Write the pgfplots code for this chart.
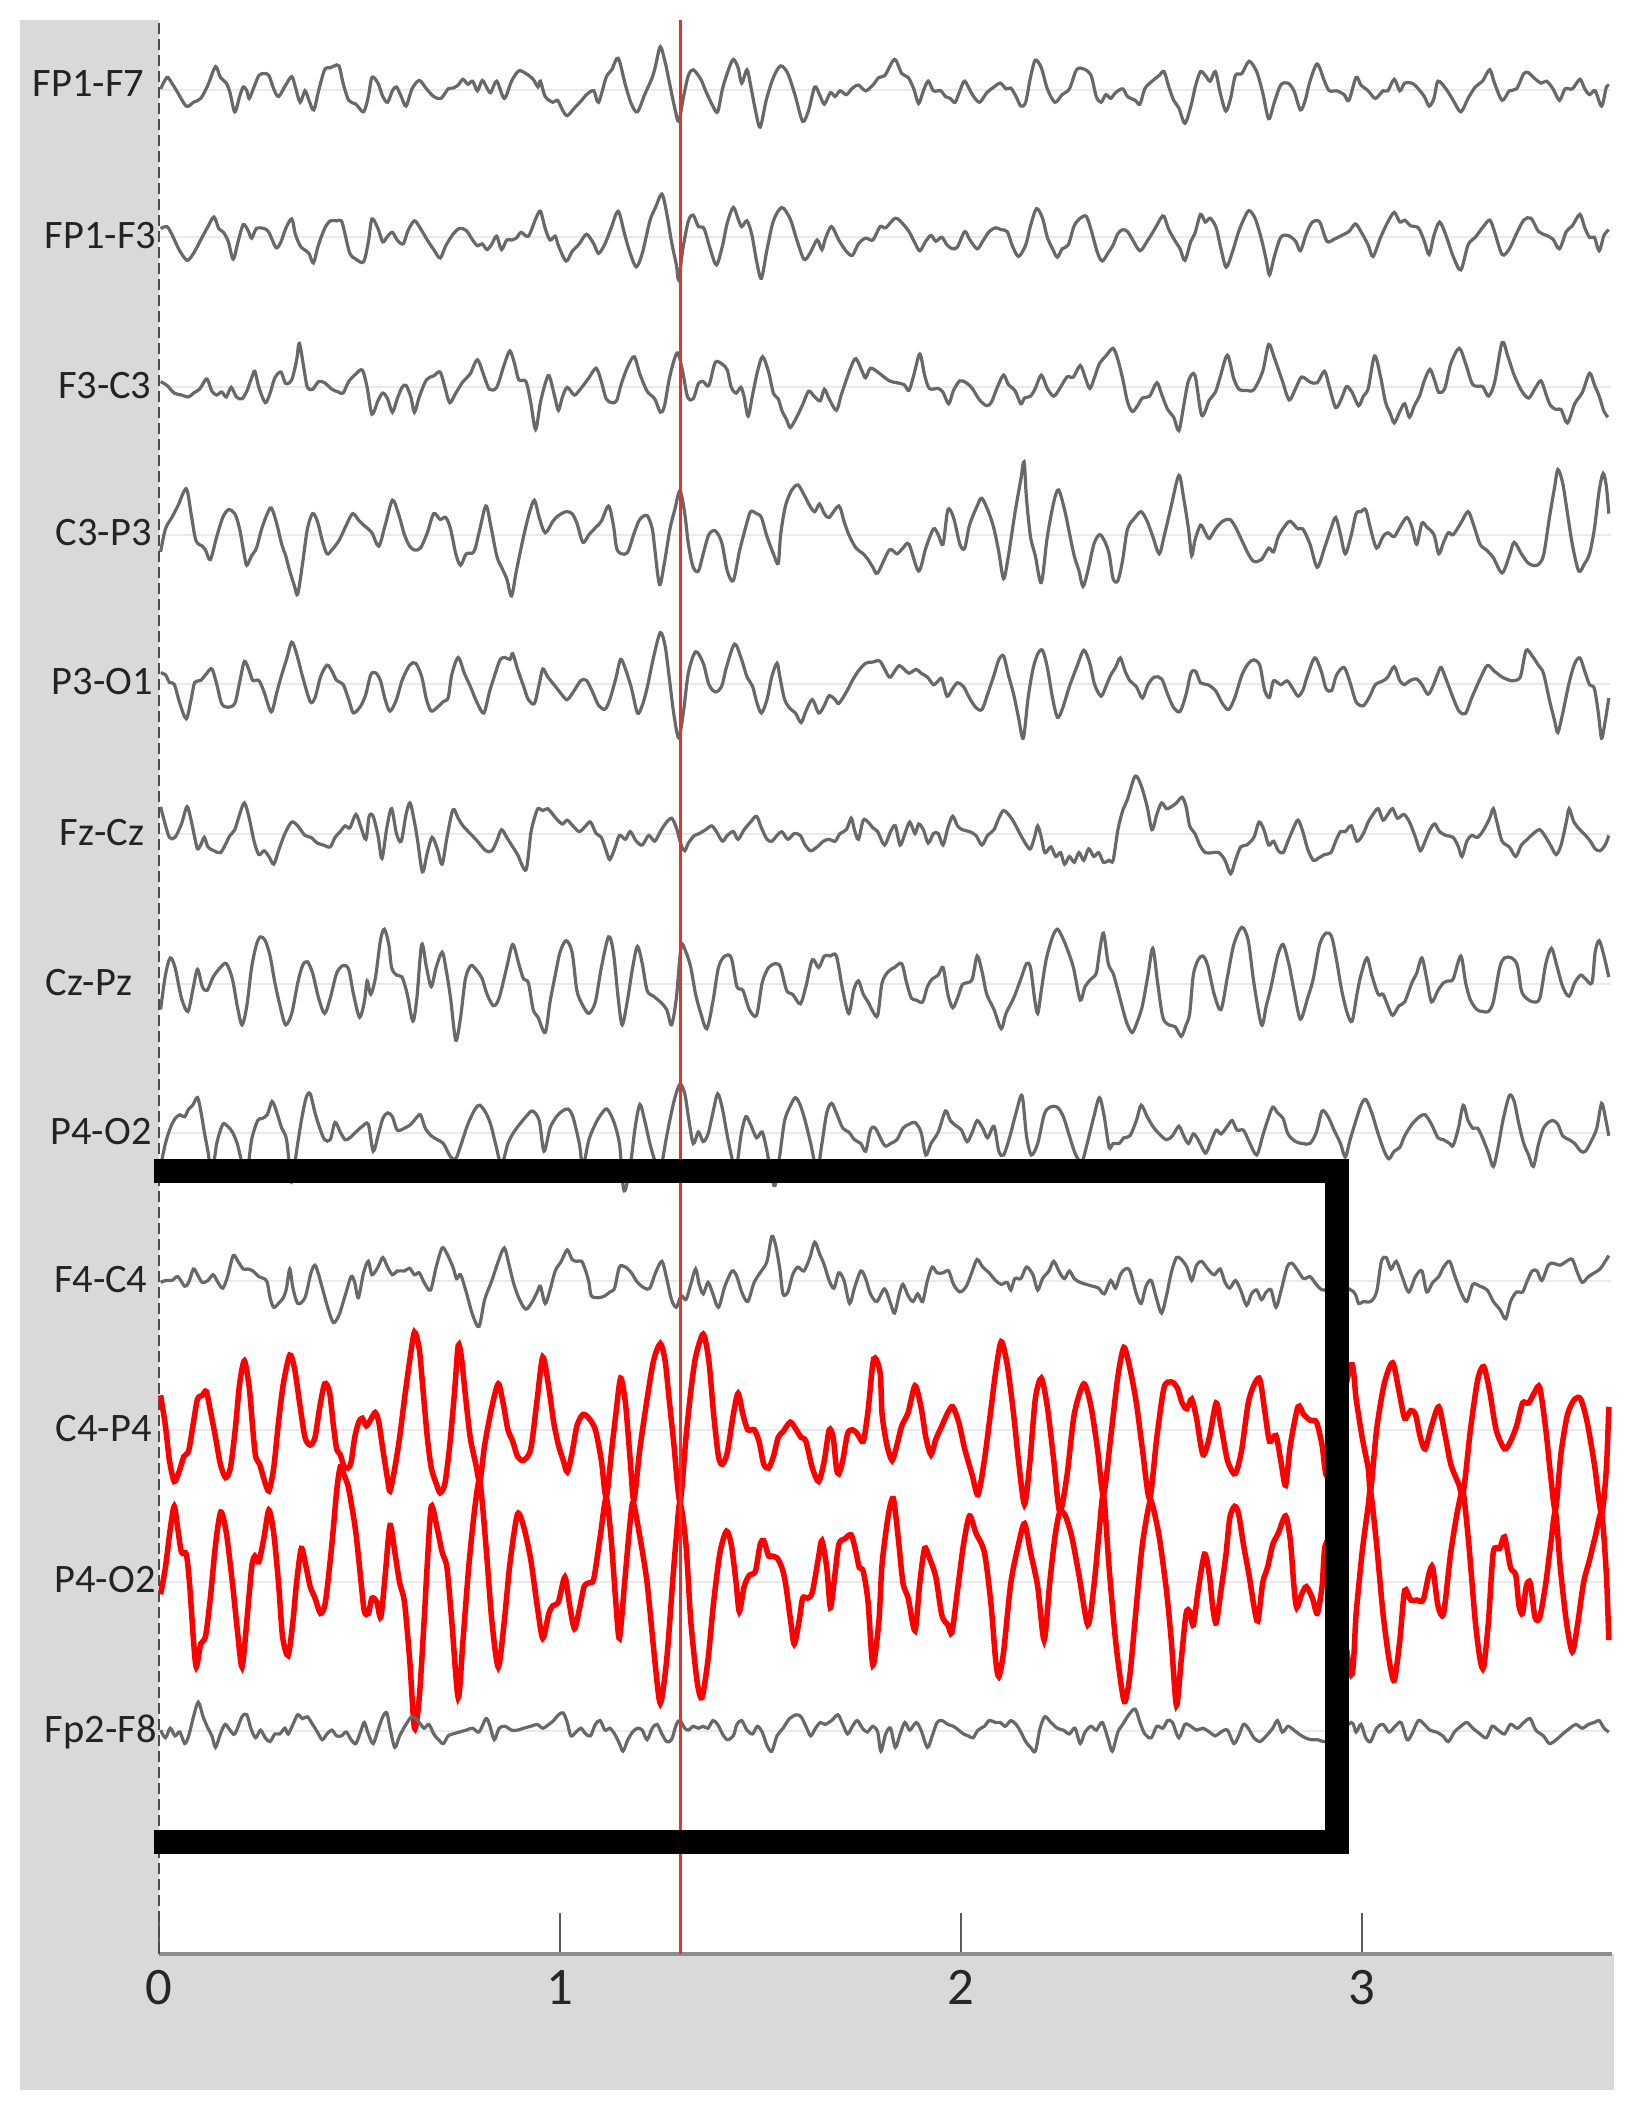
\documentclass[border=0pt]{standalone}
\usepackage{fontspec}
\setmainfont{Carlito}
\usepackage{pgfplots}
\pgfplotsset{compat=1.18}

\definecolor{stripgray}{RGB}{217,217,217}
\definecolor{tracegray}{RGB}{104,104,104}
\definecolor{eegred}{RGB}{255,0,0}
\definecolor{markerred}{RGB}{238,45,45}
\definecolor{basegray}{RGB}{234,234,234}
\definecolor{axisgray}{RGB}{140,140,140}
\definecolor{labelgray}{RGB}{35,35,35}

% 1 px of the 1632x2112 reference = 0.1 mm; y unit = amplitude units (2.613 per px)
\pgfplotsset{
  trace/.style={draw=tracegray, line width=0.32mm, smooth, tension=0.5, no markers},
  redtrace/.style={draw=eegred, line width=0.55mm, smooth, tension=0.45, no markers},
}
\tikzset{
  lab/.style={anchor=east, inner sep=0pt, font=\fontsize{11.5}{13}\selectfont,
              text=labelgray, text height=0.644em, text depth=0pt},
}

\begin{document}
\begin{tikzpicture}
\path[use as bounding box, fill=white] (0,0) rectangle (163.2mm,211.2mm);
\fill[stripgray] (2mm,2.2mm) rectangle (15.9mm,209.2mm);
\fill[stripgray] (2mm,2.2mm) rectangle (161.4mm,15.8mm);

\begin{axis}[
  at={(15.9mm,15.8mm)}, anchor=south west,
  width=145.3mm, height=193.4mm, scale only axis,
  xmin=0, xmax=3.623, ymin=-5106, ymax=-52,
  axis x line*=bottom, axis y line=none,
  x axis line style={draw=axisgray, line width=0.4mm},
  xtick={0,1,2,3}, xticklabels={0,1,2,3},
  tick align=inside, major tick length=4.1mm,
  xtick style={draw=black!65, line width=0.2mm},
  xticklabel style={font=\fontsize{15}{18}\selectfont, text=black!85, yshift=-0.4mm},
  clip=false,
]

% channel baselines
\draw[basegray, line width=0.2mm] (0,-235) -- (3.62,-235);
\draw[basegray, line width=0.2mm] (0,-620) -- (3.62,-620);
\draw[basegray, line width=0.2mm] (0,-1012) -- (3.62,-1012);
\draw[basegray, line width=0.2mm] (0,-1397) -- (3.62,-1397);
\draw[basegray, line width=0.2mm] (0,-1786) -- (3.62,-1786);
\draw[basegray, line width=0.2mm] (0,-2180) -- (3.62,-2180);
\draw[basegray, line width=0.2mm] (0,-2571) -- (3.62,-2571);
\draw[basegray, line width=0.2mm] (0,-2960) -- (3.62,-2960);
\draw[basegray, line width=0.2mm] (0,-3348) -- (3.62,-3348);
\draw[basegray, line width=0.2mm] (0,-3736) -- (3.62,-3736);
\draw[basegray, line width=0.2mm] (0,-4133) -- (3.62,-4133);
\draw[basegray, line width=0.2mm] (0,-4524) -- (3.62,-4524);

% FP1-F7
\addplot[trace, y filter/.expression={y-235}] coordinates {
(0.004,3) (0.020,33) (0.032,18) (0.044,-2) (0.068,-42) (0.086,-32) (0.104,-22) (0.122,13) (0.141,61) (0.153,33)
(0.168,18) (0.177,-7) (0.189,-57) (0.201,-17) (0.210,8) (0.219,-2) (0.225,-22) (0.237,8) (0.249,38) (0.262,43)
(0.274,38) (0.286,3) (0.298,-17) (0.316,13) (0.331,35) (0.340,8) (0.352,-32) (0.364,-2) (0.374,-27) (0.386,-52)
(0.398,-2) (0.413,53) (0.427,58) (0.437,63) (0.449,63) (0.459,18) (0.473,-27) (0.491,-37) (0.510,-57) (0.522,-17)
(0.531,33) (0.546,18) (0.558,-17) (0.570,-32) (0.582,-2) (0.592,8) (0.604,-17) (0.616,-42) (0.631,3) (0.649,25)
(0.667,3) (0.685,-17) (0.703,-22) (0.721,3) (0.733,5) (0.746,13) (0.758,28) (0.770,15) (0.782,23) (0.794,-2)
(0.806,25) (0.818,5) (0.827,-7) (0.842,23) (0.861,-22) (0.879,23) (0.897,50) (0.915,43) (0.933,28) (0.945,8)
(0.951,23) (0.963,-17) (0.982,-32) (0.994,-27) (1.006,-52) (1.018,-67) (1.036,-47) (1.054,-27) (1.066,-12) (1.084,-2)
(1.096,-32) (1.115,33) (1.129,53) (1.145,83) (1.163,13) (1.178,-37) (1.193,-57) (1.211,-12) (1.230,33) (1.238,63)
(1.250,113) (1.262,73) (1.272,23) (1.286,-47) (1.296,-82) (1.308,-17) (1.320,38) (1.332,53) (1.351,28) (1.363,-2)
(1.381,-42) (1.393,-57) (1.405,3) (1.420,53) (1.432,80) (1.444,58) (1.453,18) (1.466,53) (1.475,13) (1.487,-52)
(1.499,-97) (1.514,-27) (1.532,33) (1.550,63) (1.568,43) (1.587,-17) (1.605,-82) (1.620,-52) (1.635,8) (1.647,-12)
(1.659,-37) (1.674,-7) (1.686,-17) (1.698,-2) (1.714,-12) (1.729,5) (1.744,13) (1.762,-2) (1.780,13) (1.795,33)
(1.810,38) (1.834,80) (1.852,43) (1.868,33) (1.882,3) (1.894,-35) (1.906,-2) (1.918,23) (1.931,-2) (1.949,-2)
(1.961,-17) (1.973,-22) (1.985,-32) (1.997,-2) (2.009,23) (2.028,-12) (2.046,-32) (2.064,-7) (2.082,8) (2.098,18)
(2.112,3) (2.124,5) (2.137,-17) (2.149,-42) (2.161,-32) (2.173,33) (2.185,78) (2.200,58) (2.215,3) (2.234,-32)
(2.252,-12) (2.270,3) (2.288,53) (2.306,55) (2.324,38) (2.337,-17) (2.349,-32) (2.361,-12) (2.373,-22) (2.385,-7)
(2.403,3) (2.415,-17) (2.434,-27) (2.446,-37) (2.458,3) (2.476,23) (2.494,38) (2.506,48) (2.518,8) (2.530,-27)
(2.543,-47) (2.558,-87) (2.573,-42) (2.585,13) (2.597,48) (2.609,38) (2.621,23) (2.634,48) (2.646,-7) (2.660,-55)
(2.672,-22) (2.684,38) (2.700,43) (2.718,75) (2.737,48) (2.752,-7) (2.767,-75) (2.781,-32) (2.797,13) (2.815,18)
(2.830,-2) (2.846,-52) (2.858,-27) (2.870,23) (2.888,68) (2.906,23) (2.918,-2) (2.936,-2) (2.955,-12) (2.967,-27)
(2.985,33) (2.997,13) (3.015,-2) (3.033,-22) (3.052,-2) (3.064,-2) (3.080,28) (3.094,-2) (3.106,18) (3.124,18)
(3.136,8) (3.155,-17) (3.167,-42) (3.179,-22) (3.189,23) (3.209,3) (3.227,-27) (3.246,-57) (3.264,-22) (3.282,8)
(3.300,23) (3.318,53) (3.330,18) (3.349,-27) (3.367,-2) (3.385,3) (3.403,43) (3.415,45) (3.427,33) (3.446,18)
(3.460,23) (3.476,3) (3.492,-27) (3.506,3) (3.524,3) (3.543,28) (3.555,3) (3.567,-12) (3.581,-2) (3.597,-42)
(3.609,8) (3.615,10)
};

% FP1-F3
\addplot[trace, y filter/.expression={y-620}] coordinates {
(0.004,23) (0.020,28) (0.032,8) (0.050,-32) (0.070,-60) (0.086,-42) (0.104,-7) (0.122,28) (0.137,53) (0.149,23)
(0.161,13) (0.173,-12) (0.185,-57) (0.197,-12) (0.210,33) (0.222,18) (0.231,-2) (0.243,23) (0.262,23) (0.274,13)
(0.292,-27) (0.304,-12) (0.316,23) (0.331,48) (0.340,8) (0.352,-22) (0.362,-32) (0.374,-42) (0.385,-67) (0.397,-22)
(0.413,23) (0.427,43) (0.443,43) (0.455,43) (0.464,8) (0.476,-42) (0.491,-57) (0.510,-64) (0.522,-12) (0.531,48)
(0.546,23) (0.558,-12) (0.570,3) (0.582,13) (0.594,-7) (0.609,-17) (0.621,18) (0.637,43) (0.652,23) (0.669,-7)
(0.685,-32) (0.701,-54) (0.715,-22) (0.733,8) (0.749,23) (0.766,18) (0.782,-7) (0.794,-22) (0.806,-17) (0.818,-32)
(0.830,-17) (0.842,3) (0.854,-32) (0.867,-7) (0.879,-7) (0.891,-2) (0.903,13) (0.921,3) (0.939,48) (0.951,68)
(0.963,23) (0.975,-7) (0.988,3) (0.996,-22) (1.015,-62) (1.030,-37) (1.048,-17) (1.066,8) (1.084,-17) (1.096,-42)
(1.112,-17) (1.127,23) (1.145,68) (1.161,8) (1.175,-42) (1.190,-77) (1.205,-42) (1.224,43) (1.238,78) (1.254,113)
(1.266,63) (1.278,-12) (1.290,-72) (1.296,-112) (1.306,-32) (1.320,43) (1.332,58) (1.345,28) (1.359,23) (1.375,-32)
(1.390,-72) (1.405,-22) (1.417,38) (1.432,78) (1.444,48) (1.453,28) (1.466,43) (1.478,8) (1.490,-62) (1.502,-107)
(1.516,-32) (1.532,43) (1.553,78) (1.574,48) (1.589,-2) (1.608,-57) (1.623,-42) (1.641,-7) (1.653,-32) (1.662,-2)
(1.677,28) (1.695,-7) (1.714,-37) (1.729,-47) (1.744,-17) (1.762,-2) (1.780,-7) (1.798,28) (1.812,25) (1.836,50)
(1.855,35) (1.870,15) (1.885,-15) (1.897,-35) (1.912,-10) (1.925,5) (1.937,-10) (1.952,0) (1.965,-20) (1.979,-30)
(1.991,-25) (2.009,15) (2.021,-5) (2.040,-30) (2.054,-10) (2.070,15) (2.086,25) (2.100,20) (2.115,15) (2.127,-20)
(2.143,-50) (2.161,-20) (2.173,30) (2.188,75) (2.203,50) (2.215,0) (2.228,-30) (2.240,-52) (2.252,-30) (2.267,-20)
(2.282,30) (2.297,50) (2.312,55) (2.324,20) (2.340,-40) (2.352,-62) (2.367,-40) (2.379,-20) (2.391,10) (2.403,20)
(2.415,15) (2.427,-5) (2.446,-35) (2.464,-10) (2.482,20) (2.498,50) (2.506,55) (2.518,20) (2.534,-10) (2.546,-30)
(2.558,-60) (2.573,-10) (2.583,10) (2.597,60) (2.609,40) (2.621,50) (2.636,25) (2.648,-30) (2.661,-78) (2.676,-40)
(2.692,15) (2.706,50) (2.718,70) (2.733,50) (2.749,-5) (2.761,-60) (2.769,-98) (2.781,-50) (2.797,0) (2.815,5)
(2.834,-10) (2.846,-35) (2.861,10) (2.876,40) (2.894,40) (2.912,-10) (2.930,-5) (2.949,5) (2.967,15) (2.983,35)
(2.997,15) (3.015,-20) (3.027,-50) (3.046,0) (3.064,40) (3.080,65) (3.094,40) (3.106,45) (3.121,30) (3.140,25)
(3.155,-10) (3.167,-45) (3.179,5) (3.193,40) (3.209,5) (3.227,-50) (3.246,-85) (3.264,-20) (3.282,0) (3.300,25)
(3.318,45) (3.330,15) (3.349,-45) (3.367,-30) (3.385,10) (3.403,45) (3.421,50) (3.440,15) (3.460,5) (3.476,-5)
(3.492,-30) (3.509,15) (3.524,30) (3.543,60) (3.555,25) (3.567,0) (3.579,0) (3.591,-35) (3.603,5) (3.615,20)
};

% F3-C3
\addplot[trace, y filter/.expression={y-1012}] coordinates {
(0.004,15) (0.020,5) (0.038,-15) (0.056,-20) (0.074,-25) (0.086,-15) (0.101,-5) (0.110,10) (0.120,22) (0.132,-10)
(0.144,-20) (0.156,-12) (0.168,-25) (0.180,0) (0.193,-25) (0.207,-30) (0.219,-10) (0.231,25) (0.239,42) (0.249,0)
(0.265,-40) (0.277,-15) (0.289,25) (0.304,40) (0.316,10) (0.331,20) (0.343,70) (0.350,115) (0.362,45) (0.370,0)
(0.383,-5) (0.398,15) (0.413,12) (0.431,-5) (0.447,-12) (0.459,-15) (0.473,15) (0.491,35) (0.507,45) (0.519,0)
(0.531,-70) (0.546,-35) (0.558,-15) (0.570,-30) (0.582,-65) (0.594,-30) (0.606,0) (0.616,5) (0.628,-25) (0.637,-65)
(0.649,-25) (0.667,20) (0.685,30) (0.701,40) (0.713,0) (0.725,-40) (0.740,-15) (0.758,15) (0.776,35) (0.794,72)
(0.812,25) (0.824,-5) (0.842,0) (0.861,60) (0.875,95) (0.887,60) (0.897,20) (0.915,15) (0.927,-40) (0.939,-110)
(0.951,-40) (0.963,10) (0.973,30) (0.988,-30) (0.996,-60) (1.006,-25) (1.018,0) (1.036,-20) (1.054,0) (1.072,25)
(1.090,50) (1.103,15) (1.115,-30) (1.129,-40) (1.141,-35) (1.153,10) (1.169,55) (1.185,80) (1.199,35) (1.217,-10)
(1.236,-30) (1.250,-65) (1.260,-50) (1.272,20) (1.284,70) (1.294,90) (1.306,40) (1.318,-25) (1.332,-30) (1.345,10)
(1.357,15) (1.371,5) (1.387,65) (1.405,60) (1.417,45) (1.427,0) (1.439,-15) (1.451,0) (1.459,-25) (1.469,-75)
(1.480,-20) (1.492,40) (1.505,80) (1.520,40) (1.532,-15) (1.544,-30) (1.553,-60) (1.565,-85) (1.574,-105) (1.589,-80)
(1.605,-45) (1.620,-10) (1.635,-25) (1.649,-35) (1.659,-5) (1.671,-30) (1.689,-60) (1.701,-20) (1.714,20) (1.726,55)
(1.738,75) (1.754,40) (1.762,25) (1.774,50) (1.792,40) (1.821,17) (1.840,12) (1.858,7) (1.870,-8) (1.882,32)
(1.897,87) (1.909,32) (1.921,-3) (1.943,-3) (1.955,-13) (1.969,-43) (1.981,-8) (1.997,17) (2.013,12) (2.028,-3)
(2.046,-33) (2.064,-48) (2.076,-38) (2.091,2) (2.106,32) (2.118,7) (2.134,-8) (2.149,-43) (2.158,-28) (2.173,-23)
(2.185,-3) (2.200,32) (2.215,-3) (2.231,-23) (2.246,-3) (2.264,27) (2.280,27) (2.297,57) (2.309,27) (2.321,-3)
(2.333,27) (2.345,62) (2.361,82) (2.379,102) (2.391,72) (2.403,22) (2.415,-38) (2.427,-63) (2.440,-48) (2.452,-28)
(2.470,-23) (2.488,12) (2.500,-18) (2.515,-58) (2.530,-78) (2.543,-113) (2.555,-48) (2.567,17) (2.583,32) (2.600,-73)
(2.619,-33) (2.634,-13) (2.646,27) (2.664,84) (2.680,22) (2.694,-6) (2.712,-8) (2.730,-6) (2.752,42) (2.767,112)
(2.781,77) (2.801,17) (2.818,-33) (2.834,-3) (2.849,27) (2.870,14) (2.888,12) (2.906,42) (2.918,2) (2.934,-53)
(2.949,-28) (2.961,2) (2.975,-13) (2.991,-48) (3.003,-23) (3.015,-3) (3.031,82) (3.046,27) (3.058,-38) (3.070,-68)
(3.080,-93) (3.094,-63) (3.106,-43) (3.118,-78) (3.130,-48) (3.143,-23) (3.155,17) (3.169,47) (3.181,17) (3.191,-13)
(3.206,-3) (3.221,62) (3.242,102) (3.258,62) (3.276,7) (3.300,2) (3.315,-23) (3.330,12) (3.349,117) (3.363,82)
(3.379,32) (3.397,-8) (3.415,-28) (3.431,-3) (3.446,17) (3.460,-23) (3.470,-48) (3.484,-58) (3.496,-58) (3.512,-93)
(3.530,-43) (3.549,-13) (3.567,37) (3.579,7) (3.591,-23) (3.603,-63) (3.613,-78)
};

% C3-P3
\addplot[trace, y filter/.expression={y-1397}] coordinates {
(0.004,-45) (0.016,15) (0.032,45) (0.047,75) (0.068,120) (0.080,55) (0.092,-15) (0.108,-30) (0.116,-40) (0.128,-65)
(0.144,-5) (0.159,45) (0.173,65) (0.189,55) (0.201,15) (0.213,-55) (0.219,-80) (0.231,-55) (0.243,-35) (0.256,15)
(0.270,55) (0.280,70) (0.292,35) (0.306,-25) (0.316,-55) (0.326,-95) (0.338,-135) (0.346,-155) (0.358,-75) (0.370,15)
(0.383,55) (0.395,35) (0.407,-15) (0.419,-50) (0.431,-40) (0.449,-15) (0.467,25) (0.483,55) (0.500,35) (0.516,20)
(0.531,5) (0.548,-30) (0.564,25) (0.582,90) (0.597,55) (0.612,0) (0.625,-30) (0.637,-40) (0.652,-35) (0.669,5)
(0.685,55) (0.701,40) (0.715,45) (0.727,15) (0.740,-50) (0.752,-80) (0.766,-50) (0.785,-45) (0.798,5) (0.815,75)
(0.827,25) (0.842,-55) (0.854,-85) (0.867,-115) (0.879,-160) (0.891,-95) (0.909,-5) (0.923,55) (0.936,90) (0.948,45)
(0.963,5) (0.982,35) (0.996,50) (1.015,60) (1.030,55) (1.042,30) (1.057,-20) (1.072,0) (1.090,20) (1.103,35)
(1.121,75) (1.133,25) (1.141,-35) (1.153,-50) (1.169,-45) (1.185,5) (1.199,40) (1.217,50) (1.230,15) (1.236,-35)
(1.248,-130) (1.260,-75) (1.274,15) (1.286,65) (1.299,115) (1.311,55) (1.320,-25) (1.332,-85) (1.345,-95) (1.357,-50)
(1.371,0) (1.387,10) (1.403,-20) (1.417,-95) (1.432,-120) (1.447,-45) (1.463,20) (1.475,60) (1.490,55) (1.502,45)
(1.516,-5) (1.532,-50) (1.544,-75) (1.550,0) (1.562,75) (1.577,115) (1.593,130) (1.608,105) (1.623,75) (1.635,60)
(1.647,80) (1.659,55) (1.671,45) (1.695,75) (1.708,35) (1.720,0) (1.738,-35) (1.756,-50) (1.768,-65) (1.780,-85)
(1.792,-100) (1.821,-40) (1.840,-50) (1.855,-35) (1.870,-25) (1.894,-95) (1.912,-35) (1.931,15) (1.943,0) (1.955,-25)
(1.967,65) (1.981,45) (1.997,-25) (2.009,-35) (2.021,25) (2.040,75) (2.052,95) (2.070,55) (2.082,15) (2.094,-45)
(2.106,-115) (2.118,-55) (2.134,55) (2.149,145) (2.157,190) (2.163,95) (2.173,-5) (2.185,-55) (2.200,-125) (2.215,-5)
(2.231,85) (2.243,117) (2.258,65) (2.270,5) (2.282,-55) (2.294,-95) (2.304,-135) (2.316,-95) (2.331,-25) (2.345,0)
(2.357,-15) (2.369,-50) (2.379,-115) (2.391,-120) (2.403,-65) (2.415,15) (2.434,45) (2.449,60) (2.464,35) (2.478,-5)
(2.494,-50) (2.506,-5) (2.524,75) (2.543,155) (2.555,95) (2.567,15) (2.575,-55) (2.583,-15) (2.597,25) (2.609,5)
(2.619,-10) (2.634,15) (2.652,35) (2.670,40) (2.684,20) (2.700,-15) (2.716,-50) (2.730,-70) (2.749,-65) (2.767,-35)
(2.779,-45) (2.791,-5) (2.809,25) (2.821,35) (2.840,15) (2.852,15) (2.870,-25) (2.888,-85) (2.906,-35) (2.922,15)
(2.934,45) (2.946,0) (2.958,-50) (2.973,0) (2.985,55) (2.997,60) (3.009,65) (3.021,15) (3.036,-35) (3.052,-5)
(3.064,5) (3.080,-5) (3.097,25) (3.112,45) (3.124,20) (3.136,-25) (3.149,30) (3.161,20) (3.179,0) (3.191,-50)
(3.203,-20) (3.215,5) (3.227,0) (3.246,30) (3.264,60) (3.278,25) (3.294,-25) (3.310,-40) (3.327,-60) (3.349,-100)
(3.367,-55) (3.379,-20) (3.397,-50) (3.415,-75) (3.436,-80) (3.452,-55) (3.467,45) (3.480,125) (3.488,170) (3.500,135)
(3.512,55) (3.524,-25) (3.540,-95) (3.555,-75) (3.567,-50) (3.579,15) (3.591,115) (3.601,160) (3.609,125) (3.615,55)
};

% P3-O1
\addplot[trace, y filter/.expression={y-1786}] coordinates {
(0.004,28) (0.016,23) (0.026,3) (0.038,-2) (0.052,-52) (0.068,-92) (0.080,-42) (0.089,3) (0.104,8) (0.120,28)
(0.132,38) (0.144,-2) (0.156,-52) (0.171,-62) (0.189,-52) (0.201,3) (0.213,58) (0.225,33) (0.234,8) (0.249,8)
(0.262,-22) (0.280,-74) (0.294,-22) (0.306,23) (0.318,63) (0.331,108) (0.343,78) (0.358,18) (0.377,-47) (0.389,-37)
(0.403,18) (0.419,48) (0.431,33) (0.443,8) (0.459,-2) (0.473,-42) (0.485,-77) (0.504,-57) (0.516,-27) (0.528,23)
(0.540,28) (0.552,8) (0.564,-42) (0.576,-72) (0.592,-42) (0.606,8) (0.625,48) (0.640,53) (0.655,18) (0.667,-42)
(0.679,-72) (0.694,-62) (0.709,-47) (0.721,-37) (0.730,23) (0.746,68) (0.761,28) (0.776,-7) (0.794,-52) (0.810,-77)
(0.824,-22) (0.839,28) (0.851,63) (0.863,68) (0.875,63) (0.882,78) (0.894,38) (0.909,-7) (0.921,-42) (0.936,-52)
(0.948,-2) (0.957,38) (0.969,18) (0.988,-7) (1.003,-27) (1.018,-42) (1.036,-17) (1.052,8) (1.066,8) (1.081,-22)
(1.096,-57) (1.112,-67) (1.124,-42) (1.139,13) (1.151,63) (1.163,38) (1.178,-12) (1.193,-77) (1.205,-57) (1.217,-12)
(1.233,68) (1.250,133) (1.262,98) (1.272,18) (1.284,-82) (1.296,-142) (1.308,-72) (1.320,28) (1.338,83) (1.357,53)
(1.371,-2) (1.387,-22) (1.403,-7) (1.415,43) (1.435,103) (1.451,68) (1.466,18) (1.480,-7) (1.490,-47) (1.502,-77)
(1.516,-42) (1.528,18) (1.541,53) (1.548,18) (1.560,-42) (1.575,-67) (1.587,-77) (1.601,-102) (1.613,-72) (1.629,-42)
(1.645,-77) (1.659,-57) (1.671,-32) (1.686,-42) (1.695,-52) (1.714,-22) (1.729,8) (1.744,33) (1.762,53) (1.780,56)
(1.798,58) (1.821,17) (1.834,32) (1.846,47) (1.858,37) (1.870,27) (1.888,37) (1.900,27) (1.916,17) (1.931,-3)
(1.943,7) (1.952,12) (1.965,-33) (1.979,-13) (1.991,2) (2.006,-8) (2.021,-38) (2.037,-63) (2.052,-68) (2.066,-28)
(2.082,22) (2.094,62) (2.106,72) (2.118,22) (2.131,-28) (2.143,-88) (2.155,-143) (2.167,-38) (2.179,37) (2.191,77)
(2.203,87) (2.215,42) (2.228,-38) (2.240,-88) (2.252,-68) (2.270,-8) (2.288,42) (2.306,87) (2.321,52) (2.333,-3)
(2.349,-33) (2.361,-8) (2.373,22) (2.385,42) (2.397,67) (2.409,32) (2.421,7) (2.437,-8) (2.452,-38) (2.466,-3)
(2.482,17) (2.500,12) (2.515,-28) (2.530,-63) (2.546,-73) (2.561,-28) (2.573,27) (2.585,32) (2.597,2) (2.615,-3)
(2.634,-18) (2.652,-53) (2.667,-68) (2.682,-38) (2.700,22) (2.716,52) (2.730,62) (2.745,47) (2.757,-18) (2.769,-36)
(2.779,7) (2.797,-3) (2.813,7) (2.827,-13) (2.840,-33) (2.852,-18) (2.864,22) (2.882,67) (2.898,32) (2.910,-13)
(2.924,-18) (2.936,22) (2.955,42) (2.970,2) (2.985,-48) (3.003,-58) (3.019,-33) (3.033,-3) (3.052,7) (3.064,17)
(3.080,44) (3.094,7) (3.106,-3) (3.118,7) (3.136,12) (3.149,-3) (3.164,-28) (3.176,-8) (3.189,27) (3.197,42)
(3.209,12) (3.227,-38) (3.242,-73) (3.258,-78) (3.273,-38) (3.294,12) (3.312,47) (3.330,32) (3.349,17) (3.373,7)
(3.391,12) (3.397,27) (3.409,87) (3.424,72) (3.440,47) (3.452,27) (3.467,-43) (3.480,-98) (3.488,-128) (3.500,-78)
(3.516,2) (3.530,52) (3.543,67) (3.555,32) (3.567,-3) (3.579,-13) (3.589,-78) (3.597,-143) (3.606,-98) (3.615,-38)
};

% Fz-Cz
\addplot[trace, y filter/.expression={y-2180}] coordinates {
(0.004,72) (0.014,32) (0.026,-8) (0.040,-8) (0.056,27) (0.070,72) (0.080,37) (0.089,-8) (0.096,-38) (0.104,-28)
(0.113,-8) (0.122,-33) (0.137,-43) (0.153,-48) (0.165,-28) (0.177,-3) (0.189,12) (0.201,52) (0.213,82) (0.225,42)
(0.237,-18) (0.249,-53) (0.262,-43) (0.274,-58) (0.286,-78) (0.298,-43) (0.314,2) (0.331,32) (0.346,22) (0.364,-3)
(0.379,-8) (0.395,-23) (0.410,-28) (0.427,-33) (0.439,-8) (0.452,7) (0.464,22) (0.476,17) (0.491,52) (0.504,17)
(0.516,-13) (0.524,47) (0.534,47) (0.546,-3) (0.556,-63) (0.568,17) (0.580,67) (0.592,2) (0.604,-18) (0.616,52)
(0.626,82) (0.637,32) (0.645,-18) (0.657,-98) (0.669,-48) (0.681,-8) (0.694,-38) (0.706,-78) (0.718,-8) (0.733,64)
(0.746,42) (0.758,22) (0.776,2) (0.794,-18) (0.815,-43) (0.830,-43) (0.842,-18) (0.854,12) (0.867,-8) (0.879,-28)
(0.894,-53) (0.915,-93) (0.927,2) (0.936,42) (0.945,67) (0.957,62) (0.969,67) (0.982,52) (0.994,37) (1.006,27)
(1.018,37) (1.032,22) (1.048,7) (1.064,22) (1.076,32) (1.090,2) (1.103,-8) (1.115,-43) (1.124,-66) (1.136,-38)
(1.148,-3) (1.163,-13) (1.175,7) (1.190,-18) (1.205,-28) (1.221,-3) (1.236,-18) (1.250,7) (1.262,27) (1.278,42)
(1.290,17) (1.302,-28) (1.311,-43) (1.320,-23) (1.335,-3) (1.347,2) (1.363,12) (1.378,22) (1.390,7) (1.405,-18)
(1.417,-3) (1.432,7) (1.444,-13) (1.459,12) (1.475,32) (1.490,47) (1.502,17) (1.516,-13) (1.528,-18) (1.541,-3)
(1.553,7) (1.568,-13) (1.584,2) (1.599,-3) (1.611,-28) (1.625,-43) (1.641,-33) (1.657,-18) (1.671,-13) (1.686,-18)
(1.698,2) (1.714,12) (1.726,42) (1.734,12) (1.744,-13) (1.756,37) (1.768,32) (1.780,17) (1.792,7) (1.809,-28)
(1.824,7) (1.836,22) (1.848,-28) (1.860,2) (1.872,32) (1.885,2) (1.894,27) (1.906,12) (1.918,-23) (1.931,2)
(1.943,2) (1.955,-28) (1.967,17) (1.979,47) (1.991,22) (2.003,12) (2.021,7) (2.037,-3) (2.052,-28) (2.066,-3)
(2.082,12) (2.094,42) (2.106,62) (2.122,47) (2.134,27) (2.149,-3) (2.163,-28) (2.173,-38) (2.183,-8) (2.191,22)
(2.200,-8) (2.209,-48) (2.224,-33) (2.236,-58) (2.248,-48) (2.258,-78) (2.270,-58) (2.282,-73) (2.294,-48) (2.306,-68)
(2.318,-38) (2.331,-58) (2.343,-48) (2.355,-73) (2.369,-68) (2.379,-68) (2.391,12) (2.403,62) (2.415,92) (2.434,152)
(2.449,127) (2.464,72) (2.476,12) (2.488,52) (2.500,82) (2.512,67) (2.524,72) (2.537,82) (2.551,97) (2.561,72)
(2.570,22) (2.583,2) (2.595,-28) (2.609,-48) (2.627,-48) (2.643,-48) (2.658,-68) (2.672,-103) (2.684,-68) (2.697,-33)
(2.712,-28) (2.730,-8) (2.743,32) (2.755,12) (2.767,-28) (2.779,-18) (2.791,-43) (2.803,-48) (2.815,-18) (2.827,12)
(2.840,37) (2.852,7) (2.864,-38) (2.878,-68) (2.890,-63) (2.906,-53) (2.922,-48) (2.934,-18) (2.946,7) (2.958,7)
(2.973,22) (2.987,-18) (3.003,2) (3.015,32) (3.027,52) (3.040,67) (3.052,37) (3.064,52) (3.076,67) (3.088,42)
(3.104,52) (3.118,32) (3.133,-8) (3.145,-43) (3.157,-18) (3.169,12) (3.181,27) (3.193,7) (3.209,-3) (3.227,-8)
(3.240,-33) (3.249,-58) (3.261,-18) (3.273,-3) (3.288,-8) (3.303,12) (3.318,42) (3.327,67) (3.336,32) (3.349,-18)
(3.367,-33) (3.383,-58) (3.397,-28) (3.412,-13) (3.427,2) (3.443,12) (3.458,-8) (3.472,-33) (3.484,-53) (3.496,-28)
(3.509,32) (3.516,67) (3.528,32) (3.543,12) (3.557,-3) (3.569,-18) (3.581,-38) (3.593,-43) (3.606,-28) (3.615,-3)
};

% Cz-Pz
\addplot[trace, y filter/.expression={y-2571}] coordinates {
(0.004,-67) (0.016,23) (0.028,68) (0.040,43) (0.056,-37) (0.072,-72) (0.084,-17) (0.096,38) (0.108,-7) (0.120,-17)
(0.135,18) (0.153,43) (0.168,53) (0.183,13) (0.195,-57) (0.207,-107) (0.219,-57) (0.231,43) (0.243,103) (0.253,123)
(0.265,113) (0.277,73) (0.289,3) (0.304,-67) (0.316,-107) (0.331,-77) (0.346,3) (0.358,48) (0.370,58) (0.383,28)
(0.398,-37) (0.413,-77) (0.427,-37) (0.443,28) (0.459,48) (0.473,38) (0.485,-27) (0.500,-87) (0.512,-47) (0.519,8)
(0.528,-27) (0.540,18) (0.552,113) (0.562,143) (0.573,103) (0.580,43) (0.592,23) (0.606,18) (0.619,-27) (0.633,-97)
(0.643,-37) (0.655,103) (0.667,43) (0.679,-7) (0.691,43) (0.706,83) (0.715,43) (0.727,-37) (0.740,-147) (0.752,-87)
(0.764,13) (0.778,48) (0.794,33) (0.806,13) (0.818,-27) (0.834,-57) (0.848,-37) (0.867,43) (0.882,103) (0.897,53)
(0.909,13) (0.921,3) (0.933,-67) (0.945,-87) (0.963,-127) (0.975,-47) (0.988,23) (1.000,83) (1.015,113) (1.030,83)
(1.042,-17) (1.057,-57) (1.072,-77) (1.088,-47) (1.103,43) (1.121,123) (1.133,83) (1.145,-37) (1.155,-107) (1.169,-37)
(1.181,43) (1.193,98) (1.205,53) (1.217,-17) (1.233,-32) (1.250,-47) (1.266,-67) (1.278,-107) (1.290,-37) (1.302,98)
(1.314,83) (1.326,43) (1.338,-27) (1.351,-77) (1.366,-117) (1.381,-47) (1.395,43) (1.411,73) (1.427,68) (1.441,-7)
(1.456,-17) (1.472,-67) (1.490,-82) (1.504,3) (1.520,43) (1.538,53) (1.550,43) (1.565,-17) (1.580,-27) (1.599,-52)
(1.613,-7) (1.629,63) (1.645,43) (1.659,73) (1.674,73) (1.689,73) (1.705,-17) (1.720,-77) (1.732,-17) (1.744,8)
(1.756,-27) (1.768,-47) (1.780,-72) (1.792,-82) (1.803,3) (1.819,33) (1.834,43) (1.852,53) (1.864,3) (1.876,-37)
(1.888,-42) (1.904,-47) (1.916,-7) (1.928,13) (1.943,23) (1.955,43) (1.967,-27) (1.979,-62) (1.991,-37) (2.003,-2)
(2.015,3) (2.028,13) (2.040,73) (2.052,33) (2.064,-27) (2.082,-67) (2.100,-117) (2.112,-77) (2.131,-37) (2.149,13)
(2.163,53) (2.173,43) (2.183,-37) (2.191,-77) (2.200,-17) (2.212,63) (2.228,123) (2.240,143) (2.252,123) (2.264,93)
(2.280,43) (2.297,-42) (2.309,-7) (2.324,13) (2.337,28) (2.345,83) (2.355,133) (2.367,53) (2.379,28) (2.391,-17)
(2.406,-77) (2.415,-107) (2.427,-127) (2.440,-97) (2.452,-57) (2.466,23) (2.478,93) (2.490,3) (2.503,-87) (2.518,-107)
(2.534,-112) (2.549,-137) (2.561,-107) (2.570,-77) (2.579,23) (2.591,63) (2.603,73) (2.615,48) (2.631,-27) (2.648,-67)
(2.664,18) (2.680,103) (2.700,148) (2.716,113) (2.730,3) (2.749,-107) (2.761,-57) (2.773,-7) (2.789,73) (2.803,103)
(2.818,48) (2.830,-17) (2.846,-92) (2.864,-37) (2.878,13) (2.894,103) (2.910,133) (2.924,123) (2.936,63) (2.949,-17)
(2.963,-77) (2.975,-97) (2.987,-27) (2.997,23) (3.012,68) (3.024,23) (3.040,-27) (3.052,-27) (3.064,-57) (3.076,-82)
(3.092,-57) (3.106,-47) (3.124,3) (3.136,28) (3.149,68) (3.161,13) (3.173,-47) (3.189,-17) (3.203,3) (3.215,8)
(3.227,13) (3.246,73) (3.258,3) (3.270,-42) (3.286,-67) (3.300,-72) (3.315,-72) (3.327,-47) (3.343,43) (3.355,68)
(3.373,68) (3.387,48) (3.397,-17) (3.409,-37) (3.427,-47) (3.443,-37) (3.458,53) (3.472,93) (3.484,53) (3.500,-7)
(3.516,-32) (3.530,3) (3.545,23) (3.557,13) (3.573,3) (3.581,83) (3.591,113) (3.603,73) (3.615,18)
};

% P4-O2 (upper)
\addplot[trace, y filter/.expression={y-2960}] coordinates {
(0.004,-88) (0.016,-28) (0.028,12) (0.040,37) (0.052,47) (0.064,42) (0.074,62) (0.084,72) (0.096,92) (0.105,52)
(0.113,2) (0.122,-48) (0.132,-108) (0.144,-28) (0.159,22) (0.171,17) (0.183,2) (0.195,-28) (0.207,-78) (0.219,-108)
(0.231,-18) (0.246,32) (0.256,37) (0.270,47) (0.282,82) (0.294,52) (0.306,12) (0.318,-18) (0.331,-128) (0.343,-48)
(0.355,32) (0.367,92) (0.377,102) (0.389,52) (0.401,12) (0.413,-18) (0.427,-18) (0.439,27) (0.452,2) (0.464,-18)
(0.476,-13) (0.491,2) (0.507,17) (0.522,22) (0.534,-48) (0.546,-8) (0.558,37) (0.570,52) (0.582,42) (0.594,7)
(0.612,12) (0.628,22) (0.640,37) (0.652,47) (0.664,12) (0.679,-8) (0.694,-18) (0.709,-28) (0.727,-63) (0.740,-68)
(0.754,-28) (0.770,22) (0.788,62) (0.800,72) (0.815,52) (0.827,22) (0.839,-28) (0.854,-83) (0.870,-28) (0.885,2)
(0.899,22) (0.915,42) (0.931,57) (0.948,32) (0.960,-48) (0.975,12) (0.991,42) (1.006,57) (1.020,62) (1.032,42)
(1.048,-28) (1.057,-88) (1.072,-18) (1.090,27) (1.105,52) (1.117,62) (1.133,32) (1.148,-28) (1.157,-138) (1.163,-148)
(1.175,-88) (1.187,12) (1.199,74) (1.211,32) (1.224,-28) (1.238,-78) (1.250,-98) (1.266,-8) (1.284,82) (1.299,127)
(1.311,102) (1.320,42) (1.332,-28) (1.345,2) (1.357,-23) (1.369,-3) (1.381,52) (1.393,102) (1.405,62) (1.417,-8)
(1.429,-68) (1.439,-98) (1.451,-8) (1.463,42) (1.475,22) (1.490,-13) (1.504,2) (1.516,-48) (1.526,-108) (1.536,-138)
(1.548,-58) (1.560,32) (1.575,72) (1.587,92) (1.599,72) (1.611,32) (1.625,-28) (1.641,-98) (1.653,-28) (1.665,52)
(1.677,77) (1.689,52) (1.705,12) (1.720,2) (1.734,-18) (1.750,-28) (1.762,-48) (1.774,7) (1.786,12) (1.809,-33)
(1.824,-28) (1.840,-18) (1.855,12) (1.870,22) (1.885,27) (1.900,2) (1.912,-58) (1.925,-28) (1.943,2) (1.961,57)
(1.973,32) (1.989,17) (2.001,7) (2.015,-23) (2.028,2) (2.040,32) (2.054,12) (2.066,-13) (2.082,17) (2.094,-48)
(2.106,-58) (2.122,-8) (2.137,52) (2.152,97) (2.163,-8) (2.175,-58) (2.191,-28) (2.207,47) (2.221,67) (2.240,67)
(2.255,42) (2.270,-8) (2.284,-53) (2.300,-78) (2.312,-38) (2.331,42) (2.345,92) (2.357,42) (2.369,-38) (2.379,-28)
(2.394,-28) (2.406,-13) (2.421,-8) (2.437,32) (2.449,72) (2.464,42) (2.478,17) (2.494,-3) (2.512,-18) (2.527,-8)
(2.543,17) (2.555,-8) (2.567,-28) (2.579,-3) (2.591,-18) (2.609,-53) (2.621,-28) (2.636,7) (2.648,-3) (2.664,17)
(2.676,32) (2.688,7) (2.704,7) (2.718,-23) (2.737,-58) (2.752,-8) (2.764,32) (2.777,67) (2.789,52) (2.803,37)
(2.815,-3) (2.834,-23) (2.852,-28) (2.870,-28) (2.886,2) (2.900,57) (2.915,42) (2.930,7) (2.946,-28) (2.958,-63)
(2.970,-18) (2.983,27) (2.997,72) (3.009,87) (3.024,52) (3.040,-3) (3.055,-48) (3.067,-68) (3.080,-48) (3.094,-38)
(3.106,-8) (3.124,22) (3.143,42) (3.157,47) (3.173,22) (3.189,-13) (3.203,-18) (3.218,-28) (3.227,-33) (3.240,12)
(3.252,72) (3.264,32) (3.276,12) (3.288,12) (3.300,-13) (3.315,-53) (3.327,-88) (3.339,-38) (3.351,32) (3.367,97)
(3.379,82) (3.391,22) (3.403,-28) (3.415,-58) (3.427,-88) (3.440,-28) (3.452,12) (3.464,27) (3.476,32) (3.488,22)
(3.500,-8) (3.516,-18) (3.530,-28) (3.545,-48) (3.557,-48) (3.573,-18) (3.585,12) (3.597,77) (3.606,42) (3.615,-8)
};

% F4-C4
\addplot[trace, y filter/.expression={y-3348}] coordinates {
(0.004,-3) (0.016,2) (0.032,2) (0.047,12) (0.064,-13) (0.074,-3) (0.086,32) (0.096,17) (0.108,-3) (0.122,2)
(0.135,17) (0.147,-3) (0.159,-18) (0.171,12) (0.185,67) (0.197,52) (0.210,32) (0.222,32) (0.234,27) (0.249,12)
(0.262,7) (0.270,-3) (0.277,-43) (0.286,-68) (0.298,-58) (0.310,-43) (0.318,-18) (0.326,32) (0.334,-18) (0.346,-58)
(0.364,-43) (0.379,22) (0.389,42) (0.398,17) (0.410,-28) (0.422,-73) (0.435,-108) (0.449,-88) (0.464,-38) (0.479,12)
(0.488,-3) (0.497,-43) (0.510,22) (0.522,52) (0.531,17) (0.546,37) (0.558,62) (0.570,37) (0.582,17) (0.594,27)
(0.612,27) (0.625,34) (0.637,17) (0.649,22) (0.661,-3) (0.677,-23) (0.691,37) (0.706,87) (0.718,72) (0.733,37)
(0.742,7) (0.752,17) (0.766,-28) (0.782,-88) (0.798,-118) (0.812,-48) (0.830,2) (0.846,52) (0.861,87) (0.873,42)
(0.885,-8) (0.899,-48) (0.915,-73) (0.931,-53) (0.943,-28) (0.951,-13) (0.963,-58) (0.975,-23) (0.988,27) (1.003,52)
(1.018,82) (1.030,57) (1.042,52) (1.054,52) (1.064,27) (1.072,-3) (1.078,-38) (1.096,-43) (1.112,-38) (1.124,-28)
(1.136,-18) (1.148,37) (1.163,37) (1.178,22) (1.193,-3) (1.211,-18) (1.224,-18) (1.238,22) (1.254,52) (1.266,7)
(1.278,-48) (1.290,-68) (1.302,-38) (1.314,-48) (1.326,-8) (1.338,32) (1.347,-8) (1.357,-33) (1.369,-3) (1.381,-33)
(1.395,-68) (1.411,-13) (1.429,27) (1.441,12) (1.453,-28) (1.468,-53) (1.484,-3) (1.502,27) (1.516,52) (1.528,117)
(1.538,92) (1.548,32) (1.556,-33) (1.568,-28) (1.580,17) (1.593,37) (1.608,27) (1.623,62) (1.635,102) (1.647,72)
(1.659,42) (1.671,2) (1.683,-18) (1.695,22) (1.708,2) (1.722,-58) (1.734,-18) (1.750,27) (1.762,7) (1.774,-33)
(1.790,-53) (1.809,-20) (1.824,-58) (1.834,-83) (1.846,-33) (1.855,-8) (1.868,-38) (1.880,-53) (1.892,-33) (1.904,-53)
(1.916,2) (1.928,37) (1.940,22) (1.955,22) (1.969,27) (1.981,-8) (1.997,-28) (2.013,-13) (2.028,27) (2.040,57)
(2.054,37) (2.070,22) (2.086,2) (2.100,-8) (2.115,-3) (2.124,-23) (2.134,7) (2.149,7) (2.163,37) (2.179,17)
(2.191,-23) (2.203,7) (2.219,27) (2.231,52) (2.246,22) (2.258,7) (2.270,27) (2.282,7) (2.297,-3) (2.312,-8)
(2.328,-13) (2.343,-18) (2.357,-33) (2.373,2) (2.385,-18) (2.397,17) (2.409,32) (2.421,27) (2.437,-33) (2.449,-58)
(2.461,-13) (2.474,2) (2.488,-48) (2.500,-83) (2.512,-38) (2.524,22) (2.537,62) (2.549,57) (2.563,37) (2.575,2)
(2.587,42) (2.600,52) (2.615,32) (2.631,17) (2.646,32) (2.658,-3) (2.670,-18) (2.684,2) (2.697,-23) (2.712,-63)
(2.724,-33) (2.737,-23) (2.749,-48) (2.761,-28) (2.773,-23) (2.785,-68) (2.797,-28) (2.813,37) (2.825,47) (2.840,27)
(2.854,7) (2.870,12) (2.882,-3) (2.894,-18) (2.906,-23) (2.936,-8) (2.979,-28) (2.991,-58) (3.003,-53) (3.021,-53)
(3.036,-28) (3.048,52) (3.060,62) (3.072,32) (3.085,52) (3.100,12) (3.116,-28) (3.133,12) (3.149,27) (3.161,-28)
(3.176,-3) (3.191,12) (3.203,37) (3.218,52) (3.230,17) (3.246,-28) (3.261,-53) (3.276,-8) (3.294,-13) (3.312,-23)
(3.327,-53) (3.343,-73) (3.358,-98) (3.370,-53) (3.385,-28) (3.400,-28) (3.412,2) (3.424,27) (3.436,27) (3.448,2)
(3.464,42) (3.476,47) (3.494,42) (3.509,52) (3.524,57) (3.537,22) (3.549,-3) (3.564,12) (3.579,22) (3.593,32)
(3.606,52) (3.615,67)
};

% C4-P4 (red, upper)
\addplot[redtrace, y filter/.expression={y-3736}] coordinates {
(0.004,90) (0.016,10) (0.026,-80) (0.038,-135) (0.050,-110) (0.062,-70) (0.074,-55) (0.086,20) (0.096,80) (0.108,90)
(0.118,100) (0.128,50) (0.141,-20) (0.153,-90) (0.166,-125) (0.178,-100) (0.190,0) (0.201,120) (0.213,180) (0.225,110)
(0.234,0) (0.241,-70) (0.251,-90) (0.262,-130) (0.274,-160) (0.286,-100) (0.298,20) (0.310,120) (0.326,195) (0.338,160)
(0.352,60) (0.364,-20) (0.377,-40) (0.389,-20) (0.401,60) (0.413,120) (0.425,100) (0.435,10) (0.443,-50) (0.452,-65)
(0.461,-95) (0.471,-100) (0.479,-85) (0.488,-20) (0.498,20) (0.507,30) (0.517,10) (0.527,25) (0.539,45) (0.548,20)
(0.558,-50) (0.570,-130) (0.576,-160) (0.588,-100) (0.600,-20) (0.612,80) (0.625,180) (0.637,255) (0.649,210) (0.657,120)
(0.669,-20) (0.679,-100) (0.691,-140) (0.701,-165) (0.713,-140) (0.725,-40) (0.737,100) (0.746,220) (0.754,190) (0.764,90)
(0.776,-20) (0.790,-90) (0.800,-135) (0.812,-40) (0.830,60) (0.846,120) (0.858,70) (0.870,0) (0.882,-30) (0.894,-70)
(0.909,-80) (0.927,-50) (0.943,80) (0.957,190) (0.972,110) (0.984,20) (0.996,-40) (1.008,-80) (1.018,-110) (1.030,-60)
(1.042,10) (1.057,40) (1.072,30) (1.088,0) (1.103,-80) (1.115,-177) (1.129,-50) (1.139,40) (1.151,135) (1.163,70)
(1.175,-80) (1.184,-185) (1.199,-50) (1.217,80) (1.233,180) (1.250,225) (1.262,180) (1.272,80) (1.284,-40) (1.299,-188)
(1.314,-20) (1.326,100) (1.338,190) (1.357,250) (1.371,180) (1.383,40) (1.395,-70) (1.405,-90) (1.417,-60) (1.432,40)
(1.444,95) (1.456,40) (1.468,0) (1.484,0) (1.496,-30) (1.508,-90) (1.520,-100) (1.532,-70) (1.544,-20) (1.556,-5)
(1.574,20) (1.589,0) (1.601,-20) (1.613,-30) (1.629,-100) (1.645,-135) (1.659,-80) (1.671,0) (1.681,-20) (1.689,-100)
(1.695,-115) (1.705,-80) (1.717,-10) (1.729,0) (1.741,-10) (1.756,-30) (1.768,50) (1.782,185) (1.798,150) (1.803,40)
(1.815,-40) (1.828,-80) (1.840,-40) (1.852,10) (1.868,45) (1.885,115) (1.900,60) (1.912,-20) (1.925,-65) (1.937,-25)
(1.952,10) (1.967,45) (1.979,60) (1.994,20) (2.009,-50) (2.028,-120) (2.042,-170) (2.058,-80) (2.074,50) (2.086,150)
(2.100,230) (2.115,170) (2.131,40) (2.143,-80) (2.158,-195) (2.171,-90) (2.185,80) (2.200,135) (2.215,60) (2.231,-80)
(2.246,-215) (2.264,-120) (2.282,40) (2.306,120) (2.324,60) (2.340,-50) (2.355,-170) (2.373,-20) (2.391,140) (2.406,215)
(2.421,160) (2.437,70) (2.452,-50) (2.470,-180) (2.488,-20) (2.506,110) (2.524,125) (2.539,110) (2.551,70) (2.563,55)
(2.575,80) (2.587,30) (2.603,-65) (2.619,-20) (2.636,70) (2.648,10) (2.664,-80) (2.680,-115) (2.688,-105) (2.700,-50)
(2.718,80) (2.743,135) (2.757,50) (2.769,-30) (2.785,-15) (2.797,-80) (2.809,-145) (2.821,-40) (2.840,60) (2.854,40)
(2.870,25) (2.886,20) (2.900,-40) (2.912,-120) (2.936,0) (2.973,170) (2.985,80) (3.000,-20) (3.015,-100) (3.021,-160)
(3.036,0) (3.055,120) (3.076,175) (3.092,100) (3.106,30) (3.121,50) (3.133,40) (3.145,-20) (3.157,-50) (3.173,10)
(3.191,60) (3.206,-10) (3.221,-90) (3.240,-140) (3.252,-165) (3.270,0) (3.288,130) (3.303,165) (3.318,100) (3.334,0)
(3.355,-50) (3.370,-30) (3.385,10) (3.400,70) (3.415,70) (3.431,100) (3.443,110) (3.458,0) (3.470,-120) (3.482,-210)
(3.496,-60) (3.512,40) (3.530,80) (3.545,80) (3.561,20) (3.579,-90) (3.597,-220) (3.609,-100) (3.615,60)
};

% P4-O2 (red, lower)
\addplot[redtrace, y filter/.expression={y-4133}] coordinates {
(0.004,-33) (0.016,37) (0.028,137) (0.038,197) (0.047,137) (0.056,77) (0.068,72) (0.076,-3) (0.086,-153) (0.093,-223)
(0.104,-163) (0.116,-143) (0.128,-43) (0.141,97) (0.154,182) (0.168,127) (0.183,-3) (0.195,-123) (0.207,-223) (0.219,-103)
(0.231,37) (0.239,67) (0.249,52) (0.262,117) (0.274,187) (0.286,127) (0.298,-3) (0.308,-143) (0.322,-193) (0.334,-103)
(0.343,-3) (0.355,87) (0.367,37) (0.377,-13) (0.389,-43) (0.403,-83) (0.415,-53) (0.431,97) (0.443,237) (0.452,300)
(0.461,280) (0.471,252) (0.479,207) (0.491,127) (0.504,-3) (0.512,-78) (0.522,-83) (0.531,-43) (0.543,-53) (0.553,-93)
(0.564,17) (0.576,147) (0.588,77) (0.600,-3) (0.612,-53) (0.625,-203) (0.637,-383) (0.649,-303) (0.661,-103) (0.669,47)
(0.679,197) (0.694,137) (0.706,77) (0.718,37) (0.730,-103) (0.746,-303) (0.758,-153) (0.773,47) (0.788,197) (0.800,262)
(0.815,97) (0.830,-103) (0.846,-223) (0.861,-103) (0.875,47) (0.894,177) (0.911,137) (0.927,57) (0.943,-63) (0.957,-148)
(0.972,-83) (0.982,-63) (0.996,-53) (1.012,12) (1.024,-63) (1.036,-123) (1.048,-73) (1.060,-13) (1.072,-3) (1.084,7)
(1.100,117) (1.115,219) (1.127,117) (1.139,-53) (1.148,-148) (1.161,-3) (1.173,137) (1.182,207) (1.199,117) (1.217,-3)
(1.236,-203) (1.250,-318) (1.266,-203) (1.282,17) (1.290,117) (1.299,207) (1.314,97) (1.326,-103) (1.342,-263) (1.354,-303)
(1.369,-203) (1.383,-53) (1.399,77) (1.415,132) (1.427,97) (1.439,-3) (1.447,-78) (1.459,-13) (1.472,17) (1.487,27)
(1.499,97) (1.508,107) (1.520,67) (1.528,67) (1.541,62) (1.553,37) (1.562,-3) (1.575,-103) (1.584,-163) (1.596,-103)
(1.605,-43) (1.617,-43) (1.629,-28) (1.645,67) (1.653,107) (1.665,37) (1.674,-68) (1.683,-3) (1.695,97) (1.710,112)
(1.726,122) (1.738,77) (1.746,37) (1.756,27) (1.768,-53) (1.780,-218) (1.795,-103) (1.803,47) (1.819,177) (1.831,217)
(1.843,117) (1.855,-3) (1.868,-43) (1.885,-128) (1.897,-3) (1.909,87) (1.921,62) (1.937,12) (1.952,-88) (1.967,-113)
(1.977,-133) (1.991,-23) (2.006,97) (2.021,172) (2.037,127) (2.058,77) (2.074,-53) (2.086,-203) (2.094,-248) (2.106,-183)
(2.124,-3) (2.143,97) (2.158,152) (2.173,77) (2.191,-13) (2.207,-153) (2.221,-3) (2.234,117) (2.246,182) (2.260,172)
(2.276,117) (2.294,17) (2.316,-113) (2.331,-13) (2.343,117) (2.355,227) (2.369,37) (2.385,-153) (2.401,-283) (2.409,-313)
(2.421,-243) (2.437,-63) (2.452,97) (2.470,207) (2.478,197) (2.494,117) (2.512,-23) (2.524,-153) (2.537,-323) (2.549,-203)
(2.561,-83) (2.570,-78) (2.579,-113) (2.591,-23) (2.607,72) (2.619,17) (2.627,-63) (2.636,-108) (2.648,-23) (2.660,67)
(2.670,167) (2.682,197) (2.692,177) (2.704,97) (2.718,17) (2.730,-63) (2.740,-103) (2.752,-3) (2.764,37) (2.777,97)
(2.791,127) (2.809,172) (2.821,107) (2.830,-13) (2.837,-68) (2.849,-33) (2.861,-13) (2.876,-43) (2.888,-83) (2.900,-13)
(2.909,97) (2.936,-3) (2.973,-243) (2.985,-83) (3.000,77) (3.015,197) (3.021,237) (3.036,97) (3.052,-83) (3.067,-203)
(3.080,-258) (3.094,-153) (3.106,-23) (3.121,-48) (3.136,-48) (3.152,-48) (3.167,22) (3.176,37) (3.189,-63) (3.203,-83)
(3.221,77) (3.240,197) (3.252,232) (3.266,97) (3.282,-103) (3.294,-203) (3.303,-223) (3.315,-103) (3.327,77) (3.343,87)
(3.355,117) (3.370,37) (3.383,17) (3.391,-63) (3.400,-83) (3.409,-13) (3.419,-3) (3.431,-93) (3.443,-93) (3.458,-3)
(3.470,97) (3.482,182) (3.494,37) (3.509,-103) (3.524,-183) (3.537,-113) (3.552,-3) (3.567,57) (3.581,117) (3.597,177)
(3.609,17) (3.615,-153)
};

% Fp2-F8
\addplot[trace, y filter/.expression={y-4524}] coordinates {
(0.004,3) (0.016,-17) (0.028,8) (0.040,-12) (0.052,-2) (0.064,-32) (0.074,-12) (0.086,38) (0.098,76) (0.110,38)
(0.122,8) (0.132,-12) (0.141,-42) (0.153,-7) (0.165,18) (0.177,3) (0.189,-7) (0.207,38) (0.219,43) (0.229,8)
(0.241,-17) (0.253,3) (0.265,-17) (0.277,-27) (0.289,-7) (0.301,-7) (0.314,8) (0.322,-7) (0.334,18) (0.346,43)
(0.358,33) (0.370,38) (0.383,18) (0.395,-2) (0.407,-22) (0.419,-7) (0.431,3) (0.443,-12) (0.455,-12) (0.467,-2)
(0.479,-22) (0.491,-32) (0.504,3) (0.512,23) (0.522,-7) (0.534,-32) (0.546,3) (0.558,38) (0.568,48) (0.576,8)
(0.588,-42) (0.600,-12) (0.616,18) (0.631,38) (0.649,23) (0.661,8) (0.673,18) (0.685,-7) (0.697,-22) (0.709,-32)
(0.721,-12) (0.733,-7) (0.749,-2) (0.766,3) (0.782,8) (0.798,-2) (0.815,33) (0.824,18) (0.836,-22) (0.848,8)
(0.863,13) (0.879,3) (0.894,3) (0.909,8) (0.927,13) (0.943,18) (0.957,8) (0.972,18) (0.984,28) (0.996,43)
(1.008,48) (1.018,23) (1.027,-12) (1.040,-2) (1.052,8) (1.064,-7) (1.076,-12) (1.088,18) (1.100,28) (1.112,3)
(1.124,8) (1.136,-7) (1.148,-32) (1.157,-52) (1.169,-22) (1.181,-2) (1.193,8) (1.205,3) (1.217,-22) (1.230,8)
(1.242,18) (1.254,-7) (1.266,-27) (1.278,-22) (1.290,18) (1.299,28) (1.311,8) (1.320,3) (1.332,13) (1.345,8)
(1.357,13) (1.369,8) (1.381,28) (1.393,18) (1.405,-7) (1.417,-22) (1.432,-12) (1.441,18) (1.453,28) (1.466,3)
(1.480,-7) (1.492,13) (1.504,-2) (1.516,-37) (1.528,-52) (1.541,-12) (1.556,8) (1.572,33) (1.589,43) (1.601,38)
(1.613,13) (1.625,-12) (1.637,8) (1.649,23) (1.661,18) (1.677,28) (1.693,43) (1.705,18) (1.717,-7) (1.729,13)
(1.741,28) (1.754,8) (1.766,-2) (1.780,13) (1.792,-2) (1.800,-52) (1.812,-7) (1.824,8) (1.836,-42) (1.848,-7)
(1.860,23) (1.872,3) (1.888,23) (1.900,3) (1.916,-42) (1.928,-12) (1.940,23) (1.952,28) (1.967,18) (1.981,13)
(1.994,3) (2.006,-7) (2.018,-12) (2.030,-17) (2.042,3) (2.058,13) (2.070,28) (2.086,23) (2.098,23) (2.110,13)
(2.124,28) (2.137,18) (2.149,-2) (2.161,-27) (2.173,-42) (2.185,-52) (2.197,8) (2.209,38) (2.224,23) (2.240,8)
(2.255,3) (2.270,-7) (2.284,8) (2.297,-32) (2.309,-2) (2.324,13) (2.337,3) (2.352,23) (2.367,-22) (2.377,-52)
(2.391,-2) (2.403,18) (2.418,43) (2.434,58) (2.446,23) (2.458,-7) (2.474,-17) (2.488,13) (2.503,8) (2.515,28)
(2.527,23) (2.543,-17) (2.558,18) (2.573,13) (2.587,3) (2.603,8) (2.619,-2) (2.634,-12) (2.648,-2) (2.664,3)
(2.680,-32) (2.692,-12) (2.704,18) (2.716,8) (2.730,-17) (2.745,-27) (2.761,-12) (2.777,8) (2.789,28) (2.801,-2)
(2.815,13) (2.830,3) (2.842,-7) (2.858,-17) (2.873,-22) (2.890,-22) (2.906,-27) (2.936,-12) (2.973,23) (2.985,-2)
(2.997,18) (3.009,-17) (3.021,-27) (3.036,8) (3.052,18) (3.067,-2) (3.082,13) (3.097,23) (3.112,-22) (3.124,-7)
(3.140,28) (3.155,18) (3.169,3) (3.185,-2) (3.201,-12) (3.215,-27) (3.230,-2) (3.246,13) (3.261,23) (3.276,8)
(3.294,-7) (3.310,-17) (3.324,13) (3.339,3) (3.355,-7) (3.370,18) (3.387,8) (3.403,23) (3.419,33) (3.433,3)
(3.452,-12) (3.467,-32) (3.484,-22) (3.500,-7) (3.518,8) (3.533,18) (3.549,8) (3.564,18) (3.579,23) (3.591,28)
(3.603,8) (3.615,-2)
};

% time marker, left edge, highlight box
\draw[markerred, line width=0.3mm] (1.30,-52) -- (1.30,-5106);
\draw[black!70, line width=0.25mm, dash pattern=on 1.1mm off 0.5mm] (0,-60) -- (0,-5106);
\draw[black, line width=2.4mm, line join=miter] (-0.012,-3059) -- (2.938,-3059) -- (2.938,-4814) -- (-0.012,-4814);

% channel names
\node[lab] at (-0.035,-222) {FP1-F7};
\node[lab] at (-0.005,-620) {FP1-F3};
\node[lab] at (-0.017,-1012) {F3-C3};
\node[lab] at (-0.017,-1397) {C3-P3};
\node[lab] at (-0.014,-1786) {P3-O1};
\node[lab] at (-0.035,-2180) {Fz-Cz};
\node[lab] at (-0.065,-2571) {Cz-Pz};
\node[lab] at (-0.017,-2960) {P4-O2};
\node[lab] at (-0.027,-3348) {F4-C4};
\node[lab] at (-0.017,-3736) {C4-P4};
\node[lab] at (-0.007,-4133) {P4-O2};
\node[lab] at (-0.004,-4524) {Fp2-F8};
\end{axis}
\end{tikzpicture}
\end{document}
